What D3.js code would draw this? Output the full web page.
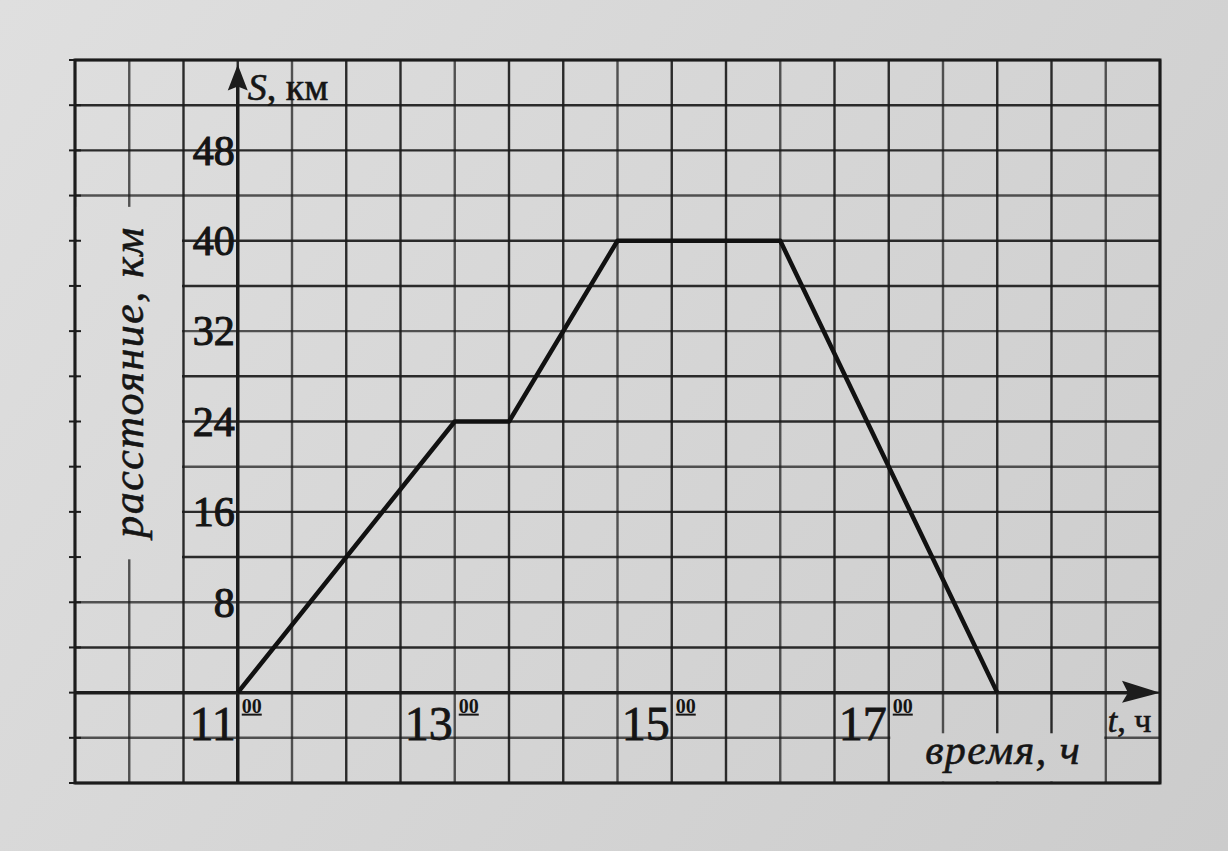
<!DOCTYPE html>
<html>
<head>
<meta charset="utf-8">
<script src="https://cdn.jsdelivr.net/npm/d3@7/dist/d3.min.js"></script>
<style>
  html, body { margin: 0; padding: 0; }
  body { width: 1228px; height: 851px; overflow: hidden; background: #d3d3d3; }
  svg { display: block; }
</style>
</head>
<body>
<svg id="chart" width="1228" height="851"></svg>
<script>
// ---- data ----
const hours = [11, 13, 13.5, 14.5, 16, 18];
const distanceKm = [0, 24, 24, 40, 40, 0];
const yTickValues = [8, 16, 24, 32, 40, 48];
const xTickValues = [11, 13, 15, 17];
const xTickLabels = ["11", "13", "15", "17"];
const xTickSup = ["00", "00", "00", "00"];
const yAxisTitle = "расстояние, км";
const xAxisTitle = "время, ч";
const yAxisName = ["S", ", км"];
const xAxisName = ["t", ", ч"];

// ---- layout ----
const svg = d3.select("#chart");
const mLeft = 75, mRight = 1160, mTop = 60, mBottom = 783;
const x = d3.scaleLinear().domain([9.5, 19.5]).range([mLeft, mRight]);
const y = d3.scaleLinear().domain([-8, 56]).range([mBottom, mTop]);
const ink = "#1c1c1c";
const serif = "'Liberation Serif', 'DejaVu Serif', serif";

// paper gradient (shared by background and blank label boxes)
const defs = svg.append("defs");
const grad = defs.append("linearGradient").attr("id", "pg")
  .attr("gradientUnits", "userSpaceOnUse")
  .attr("x1", 0).attr("y1", 0).attr("x2", 1228).attr("y2", 851);
grad.append("stop").attr("offset", "0").attr("stop-color", "#dfdfdf");
grad.append("stop").attr("offset", "1").attr("stop-color", "#cccccc");
const paper = "url(#pg)";
svg.append("rect").attr("width", 1228).attr("height", 851).attr("fill", paper);

// grid
const g = svg.append("g");
const xGrid = d3.range(9.5, 19.51, 0.5);
const yGrid = d3.range(-8, 56.1, 4);
g.selectAll("line.v").data(xGrid).join("line")
  .attr("x1", d => x(d)).attr("x2", d => x(d))
  .attr("y1", y(-8)).attr("y2", y(56))
  .attr("stroke", ink).attr("stroke-width", 2.4).attr("opacity", (d, i) => i % 3 === 1 ? 0.72 : 0.92);
g.selectAll("line.h").data(yGrid).join("line")
  .attr("x1", x(9.5)).attr("x2", x(19.5))
  .attr("y1", d => y(d)).attr("y2", d => y(d))
  .attr("stroke", ink).attr("stroke-width", 2.4).attr("opacity", (d, i) => i % 3 === 1 ? 0.72 : 0.92);

// small ticks on left border
g.selectAll("line.lt").data(yGrid).join("line")
  .attr("x1", x(9.5) - 6).attr("x2", x(9.5) + 6)
  .attr("y1", d => y(d)).attr("y2", d => y(d))
  .attr("stroke", ink).attr("stroke-width", 2);

// label boxes (blank areas in the grid)
g.append("rect")
  .attr("x", x(9.5) + 1.5).attr("y", y(43))
  .attr("width", x(10.5) - x(9.5) - 3).attr("height", y(11.8) - y(43))
  .attr("fill", paper);
g.selectAll("line.lt2").data(yGrid.filter(d => d >= 12 && d <= 40)).join("line")
  .attr("x1", x(9.5)).attr("x2", x(9.5) + 6)
  .attr("y1", d => y(d)).attr("y2", d => y(d))
  .attr("stroke", ink).attr("stroke-width", 2);
g.append("rect")
  .attr("x", x(17) + 1.5).attr("y", y(-3.6))
  .attr("width", x(19) - x(17) - 3).attr("height", y(-8) - y(-3.6) - 1.5)
  .attr("fill", paper);

// outer border
g.append("rect").attr("x", x(9.5)).attr("y", y(56))
  .attr("width", x(19.5) - x(9.5)).attr("height", y(-8) - y(56))
  .attr("fill", "none").attr("stroke", ink).attr("stroke-width", 3);

// axes
g.append("line").attr("x1", x(9.5)).attr("x2", x(19.5) - 20)
  .attr("y1", y(0)).attr("y2", y(0)).attr("stroke", ink).attr("stroke-width", 3.5);
g.append("line").attr("x1", x(11)).attr("x2", x(11))
  .attr("y1", y(-8)).attr("y2", y(55)).attr("stroke", ink).attr("stroke-width", 3.5);
g.append("path")
  .attr("d", `M${x(19.5)},${y(0)} L${x(19.5) - 38},${y(0) - 12} L${x(19.5) - 32},${y(0)} L${x(19.5) - 38},${y(0) + 10} Z`)
  .attr("fill", ink);
g.append("path")
  .attr("d", `M${x(11)},${y(55.6)} L${x(11) - 10},${y(55.6) + 26} L${x(11)},${y(55.6) + 22} L${x(11) + 10},${y(55.6) + 26} Z`)
  .attr("fill", ink);

// data line
const line = d3.line().x((d, i) => x(hours[i])).y(d => y(d));
g.append("path").datum(distanceKm).attr("d", line)
  .attr("fill", "none").attr("stroke", "#111").attr("stroke-width", 4.5)
  .attr("stroke-linejoin", "round");

// y tick labels
g.selectAll("text.yt").data(yTickValues).join("text")
  .attr("x", x(11) - 3).attr("y", d => y(d))
  .attr("dy", "0.34em").attr("text-anchor", "end")
  .attr("font-family", serif).attr("font-size", 42).attr("fill", "#151515")
  .attr("stroke", "#151515").attr("stroke-width", 1.1)
  .text(d => d);

// x tick labels with superscript
xTickValues.forEach((v, i) => {
  g.append("text")
    .attr("x", x(v) - 2).attr("y", y(-4) + 2)
    .attr("text-anchor", "end")
    .attr("font-family", serif).attr("font-size", 48).attr("fill", "#151515")
    .attr("stroke", "#151515").attr("stroke-width", 0.8)
    .text(xTickLabels[i]);
  g.append("text")
    .attr("x", x(v) + 4).attr("y", y(0) + 20)
    .attr("font-family", serif).attr("font-size", 20).attr("font-weight", "bold")
    .attr("fill", "#151515").attr("text-decoration", "underline")
    .text(xTickSup[i]);
});

// axis names
const sName = g.append("text").attr("x", x(11) + 10).attr("y", y(52) - 5)
  .attr("font-family", serif).attr("font-size", 38).attr("fill", "#151515")
  .attr("stroke", "#151515").attr("stroke-width", 0.6);
sName.append("tspan").attr("font-style", "italic").text(yAxisName[0]);
sName.append("tspan").text(yAxisName[1]);

const tName = g.append("text").attr("x", x(19) + 2).attr("y", y(-4) - 6)
  .attr("font-family", serif).attr("font-size", 34).attr("fill", "#151515")
  .attr("stroke", "#151515").attr("stroke-width", 0.6);
tName.append("tspan").attr("font-style", "italic").text(xAxisName[0]);
tName.append("tspan").text(xAxisName[1]);

// titles
g.append("text")
  .attr("transform", `translate(${x(10) + 14},${y(27.5)}) rotate(-90)`)
  .attr("text-anchor", "middle")
  .attr("font-family", serif).attr("font-style", "italic").attr("font-size", 44)
  .attr("letter-spacing", 1.5).attr("fill", "#151515")
  .attr("stroke", "#151515").attr("stroke-width", 0.6)
  .text(yAxisTitle);
g.append("text")
  .attr("x", (x(17) + x(19)) / 2 + 6).attr("y", y(-6.3))
  .attr("text-anchor", "middle")
  .attr("font-family", serif).attr("font-style", "italic").attr("font-size", 42)
  .attr("letter-spacing", 1.5).attr("fill", "#151515")
  .attr("stroke", "#151515").attr("stroke-width", 0.6)
  .text(xAxisTitle);
</script>
</body>
</html>
